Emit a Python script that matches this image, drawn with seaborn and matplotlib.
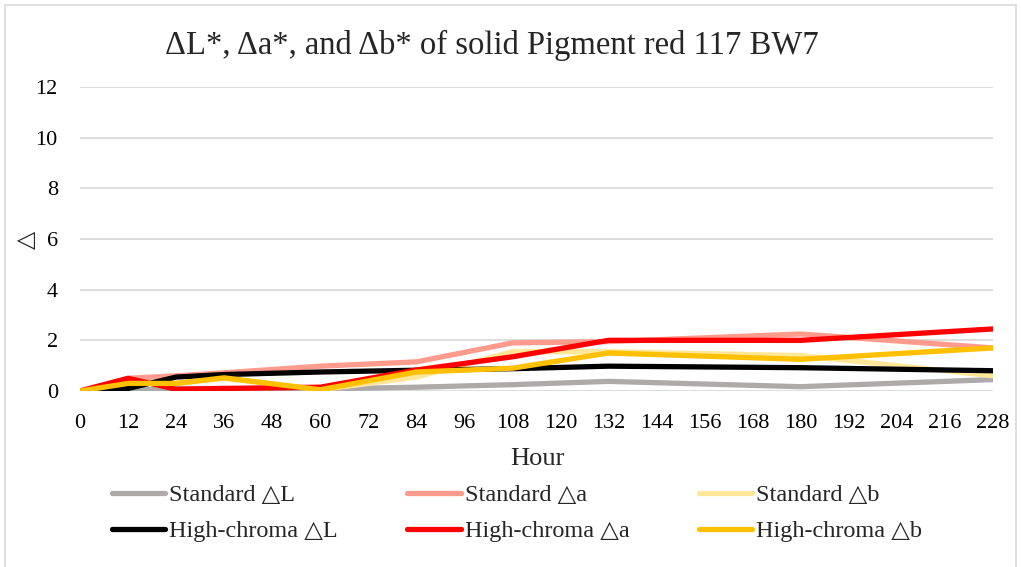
import pandas as pd
import numpy as np
import matplotlib
matplotlib.use("Agg")
import matplotlib.pyplot as plt
import seaborn as sns

# data
hours = [0, 12, 24, 36, 60, 84, 108, 132, 180, 228]
std_L = [0, 0.02, 0.1, 0.1, 0.08, 0.15, 0.25, 0.38, 0.17, 0.45]
std_a = [0, 0.5, 0.6, 0.72, 0.98, 1.15, 1.9, 1.95, 2.25, 1.7]
std_b = [0, 0.3, 0.3, 0.5, 0.05, 0.55, 1.55, 1.55, 1.4, 0.6]
hc_L = [0, 0.1, 0.55, 0.65, 0.75, 0.82, 0.88, 0.98, 0.92, 0.8]
hc_a = [0, 0.5, 0.07, 0.1, 0.15, 0.83, 1.35, 2.0, 2.0, 2.45]
hc_b = [0, 0.3, 0.3, 0.52, 0.05, 0.75, 0.9, 1.5, 1.25, 1.7]

series_names = ["Standard △L", "Standard △a", "Standard △b",
                "High-chroma △L", "High-chroma △a", "High-chroma △b"]
series_vals = [std_L, std_a, std_b, hc_L, hc_a, hc_b]
colors = ["#AEAAAA", "#FF9B8D", "#FFE699", "#000000", "#FF0000", "#FFC000"]

rows = []
for name, vals in zip(series_names, series_vals):
    for h, v in zip(hours, vals):
        rows.append({"Hour": h, "value": v, "series": name})
df = pd.DataFrame(rows)

sns.set_style("white")
plt.rcParams["font.family"] = ["Liberation Serif", "DejaVu Serif"]

fig = plt.figure(figsize=(10.21, 5.67), dpi=100)
ax = fig.add_axes([80 / 1021, 1 - 391 / 567, 913 / 1021, 304 / 567])

sns.lineplot(data=df, x="Hour", y="value", hue="series",
             hue_order=series_names, palette=dict(zip(series_names, colors)),
             linewidth=3.8, ax=ax, legend=True)

ax.set_xlim(0, 228)
ax.set_ylim(0, 12)
ax.set_xticks(np.arange(0, 229, 12))
ax.set_yticks(np.arange(0, 13, 2))
ax.tick_params(axis="both", length=0, labelsize=16, colors="#000000")
ax.tick_params(axis="x", pad=16.5)
ax.tick_params(axis="y", pad=16)
ax.yaxis.grid(True, color="#D9D9D9", linewidth=1.3)
ax.set_axisbelow(True)
for s in ax.spines.values():
    s.set_visible(False)

ax.set_xlabel("Hour", fontsize=19)
ax.xaxis.set_label_coords(537 / 1021, 1 - 459 / 567, transform=fig.transFigure)
ax.xaxis.label.set_verticalalignment("center")
ax.set_ylabel("△", fontsize=17)
ax.yaxis.set_label_coords(27 / 1021, 1 - 240 / 567, transform=fig.transFigure)
ax.yaxis.label.set_verticalalignment("center")

fig.text(492 / 1021, 1 - 45 / 567, "ΔL*, Δa*, and Δb* of solid Pigment red 117 BW7",
         ha="center", va="center", fontsize=23.5)

# row-wise legend order like the original
handles, labels = ax.get_legend_handles_labels()
order = [0, 3, 1, 4, 2, 5]
ax.legend([handles[i] for i in order], [labels[i] for i in order], ncol=3,
          loc="upper left",
          bbox_to_anchor=(112 / 1021, 1 - 484 / 567), bbox_transform=fig.transFigure,
          frameon=False, fontsize=17.5, handlelength=2.2, handletextpad=0.16,
          columnspacing=2.85, labelspacing=0.58, borderaxespad=0, borderpad=0)

# chart-area border
border = plt.Rectangle((5 / 1021, -0.01), 1011 / 1021, 1 - 5 / 567 + 0.01,
                       transform=fig.transFigure, fill=False,
                       edgecolor="#D9D9D9", linewidth=1.2)
fig.patches.append(border)

fig.savefig("out.png", dpi=100)
